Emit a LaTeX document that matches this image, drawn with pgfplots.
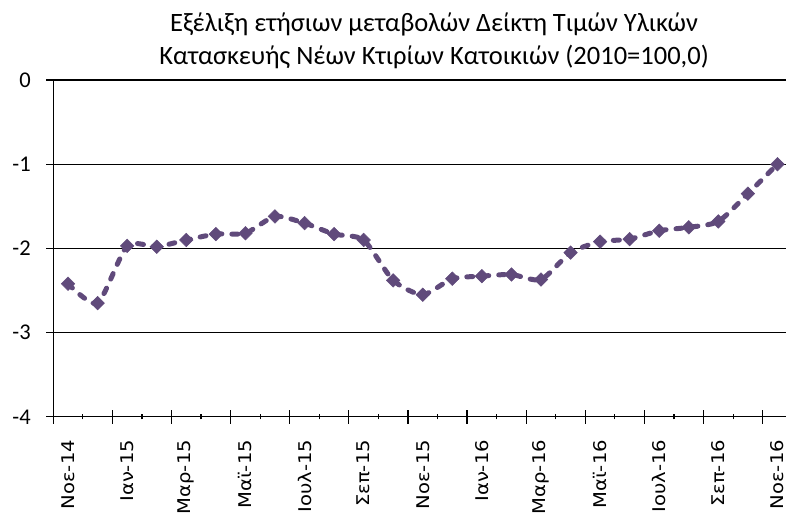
\documentclass[border=0pt]{standalone}
\usepackage{fontspec}
\setmainfont{Carlito}
\newfontfamily\dv[FakeStretch=1.12]{DejaVu Sans}
\usepackage{pgfplots}
\pgfplotsset{compat=1.18}
\definecolor{linepurple}{HTML}{604A7B}
\begin{document}
\begin{tikzpicture}[x=1pt,y=1pt]
\useasboundingbox (0,0) rectangle (786,516);
\node[align=center, font=\fontsize{26.5}{33}\selectfont, anchor=center] at (434,475) {Εξέλιξη ετήσιων μεταβολών Δείκτη Τιμών Υλικών\\Κατασκευής Νέων Κτιρίων Κατοικιών (2010=100,0)};
\begin{axis}[
  at={(53.3pt,99.2pt)}, anchor=south west,
  scale only axis, width=733pt, height=336.8pt,
  xmin=-0.5, xmax=24.3, ymin=-4, ymax=0,
  axis x line*=bottom, axis y line*=left,
  axis line style={black, line width=1.2pt},
  ymajorgrids, major grid style={black, line width=1.2pt},
  ytick={-4,-3,-2,-1,0}, yticklabels={-4,-3,-2,-1,0},
  yticklabel style={font=\fontsize{22.5}{26}\selectfont},
  yticklabel shift=12pt,
  ytick align=center, xtick align=center,
  major tick length=14pt, minor tick length=5pt,
  every tick/.style={black, line width=1.2pt},
  xtick={-0.5,1.5,...,23.5}, xticklabels={},
  minor xtick={0.5,2.5,...,22.5},
  extra x ticks={0,2,...,24},
  extra x tick labels={Νοε-14,Ιαν-15,Μαρ-15,Μαϊ-15,Ιουλ-15,Σεπ-15,Νοε-15,Ιαν-16,Μαρ-16,Μαϊ-16,Ιουλ-16,Σεπ-16,Νοε-16},
  extra x tick style={xtick style={draw=none}, major tick length=0pt},
  xticklabel style={rotate=90, anchor=east, inner sep=0pt, font=\dv\fontsize{17.5}{20}\selectfont},
  xticklabel shift=23pt,
  clip=false,
]
\addplot[color=linepurple, line width=5pt, dash pattern=on 6pt off 10pt, line cap=round, smooth, tension=0.4,
  mark=square*, mark size=4.8pt, mark options={solid, rotate=45, fill=linepurple, draw=linepurple, line width=0.5pt}]
  coordinates {
  (0,-2.42) (1,-2.65) (2,-1.97) (3,-1.98) (4,-1.90) (5,-1.83) (6,-1.82)
  (7,-1.62) (8,-1.70) (9,-1.83) (10,-1.90) (11,-2.38) (12,-2.55) (13,-2.36)
  (14,-2.33) (15,-2.31) (16,-2.37) (17,-2.05) (18,-1.92) (19,-1.89) (20,-1.79)
  (21,-1.75) (22,-1.68) (23,-1.35) (24,-1.00)
  };
\end{axis}
\end{tikzpicture}
\end{document}
